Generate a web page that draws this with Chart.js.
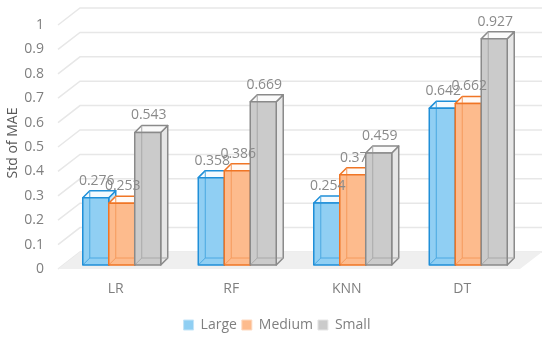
<!DOCTYPE html>
<html>
<head>
<meta charset="utf-8">
<script src="https://cdn.jsdelivr.net/npm/chart.js@4.4.1/dist/chart.umd.min.js"></script>
<style>
  html, body { margin: 0; padding: 0; background: #ffffff; }
  #wrap { width: 550px; height: 339px; }
</style>
</head>
<body>
<div id="wrap"><canvas id="chart" width="550" height="339"></canvas></div>
<script>
const categories = ["LR", "RF", "KNN", "DT"];
const seriesNames = ["Large", "Medium", "Small"];
const largeValues = [0.276, 0.358, 0.254, 0.642];
const mediumValues = [0.253, 0.386, 0.37, 0.662];
const smallValues = [0.543, 0.669, 0.459, 0.927];
const yTicks = [0, 0.1, 0.2, 0.3, 0.4, 0.5, 0.6, 0.7, 0.8, 0.9, 1];

// front / side / top / edge colours for each series
const faceColors = [
    { front: "#90cff3", side: "#c4e5f8", top: "#f4fafe", edge: "#1f8fd8", inner: "#4aa8e2" },
    { front: "#fdbb8d", side: "#fdd9c0", top: "#fffaf6", edge: "#f07525", inner: "#f59a5c" },
    { front: "#cbcbcb", side: "#e6e6e6", top: "#fafafa", edge: "#8a8a8a", inner: "#a9a9a9" },
];

const DEPTH = 7;       // depth of each box
const WALL_DX = 22;    // back wall offset
const WALL_DY = 17;
const FONT = "'Open Sans', 'Noto Sans', sans-serif";

const fmt = (v) => String(Math.round(v * 1000) / 1000);

const box3d = {
    id: "box3d",
    afterLayout(chart) {
        // legend sits a bit right of the canvas centre
        chart.legend.left += 14;
        chart.legend.right += 14;
        chart.legend.top += 3;
        chart.legend.bottom += 3;
    },
    beforeDatasetsDraw(chart) {
        const ctx = chart.ctx;
        const y = chart.scales.y;
        const area = chart.chartArea;
        const fx0 = area.left - 6;     // front edge of floor / walls
        const fx1 = area.right - 6;
        ctx.save();
        // back wall gridlines with slanted side part
        ctx.strokeStyle = "#e7e7e7";
        ctx.lineWidth = 1.5;
        yTicks.forEach((v) => {
            const py = y.getPixelForValue(v) + 4;
            ctx.beginPath();
            ctx.moveTo(fx0, py);
            ctx.lineTo(fx0 + WALL_DX, py - WALL_DY);
            ctx.lineTo(fx1 + WALL_DX, py - WALL_DY);
            ctx.stroke();
        });
        // floor
        const by = y.getPixelForValue(0) + 4;
        ctx.fillStyle = "#efefef";
        ctx.beginPath();
        ctx.moveTo(fx0, by);
        ctx.lineTo(fx0 + WALL_DX, by - WALL_DY);
        ctx.lineTo(fx1 + WALL_DX, by - WALL_DY);
        ctx.lineTo(fx1, by);
        ctx.closePath();
        ctx.fill();
        ctx.restore();
    },
    afterDatasetsDraw(chart) {
        const ctx = chart.ctx;
        const d = DEPTH;
        ctx.save();
        ctx.lineJoin = "round";
        for (let i = 0; i < categories.length; i++) {
            chart.data.datasets.forEach((ds, di) => {
                const el = chart.getDatasetMeta(di).data[i];
                const c = faceColors[di];
                const l = el.x - el.width / 2;
                const r = el.x + el.width / 2;
                const t = el.y;
                const b = el.base;
                ctx.lineWidth = 1.5;
                ctx.strokeStyle = c.edge;
                // side
                ctx.fillStyle = c.side;
                ctx.beginPath();
                ctx.moveTo(r, t);
                ctx.lineTo(r + d, t - d);
                ctx.lineTo(r + d, b - d);
                ctx.lineTo(r, b);
                ctx.closePath();
                ctx.fill();
                ctx.stroke();
                // top
                ctx.fillStyle = c.top;
                ctx.beginPath();
                ctx.moveTo(l, t);
                ctx.lineTo(l + d, t - d);
                ctx.lineTo(r + d, t - d);
                ctx.lineTo(r, t);
                ctx.closePath();
                ctx.fill();
                ctx.stroke();
                // front
                ctx.fillStyle = c.front;
                ctx.fillRect(l, t, r - l, b - t);
                // hidden edges seen through the box
                ctx.lineWidth = 1;
                ctx.strokeStyle = c.inner;
                ctx.beginPath();
                ctx.moveTo(l + d, t - d);
                ctx.lineTo(l + d, b - d);
                ctx.lineTo(r + d, b - d);
                ctx.moveTo(l, b);
                ctx.lineTo(l + d, b - d);
                ctx.stroke();
                ctx.lineWidth = 1.5;
                ctx.strokeStyle = c.edge;
                ctx.strokeRect(l, t, r - l, b - t);
            });
        }
        // value labels
        ctx.fillStyle = "#8a8a8a";
        ctx.font = "14px " + FONT;
        ctx.textAlign = "center";
        ctx.textBaseline = "middle";
        chart.data.datasets.forEach((ds, di) => {
            chart.getDatasetMeta(di).data.forEach((el, i) => {
                ctx.fillText(fmt(ds.data[i]), el.x + 1, el.y - 17);
            });
        });
        ctx.restore();
    },
};

const valueSets = [largeValues, mediumValues, smallValues];

new Chart(document.getElementById("chart"), {
    type: "bar",
    plugins: [box3d],
    data: {
        labels: categories,
        datasets: seriesNames.map((name, i) => ({
            label: name,
            data: valueSets[i],
            backgroundColor: faceColors[i].front,
            borderColor: faceColors[i].side,
            borderWidth: 1,
        })),
    },
    options: {
        responsive: false,
        animation: false,
        layout: { padding: { top: 21, right: 24, left: 0, bottom: 0 } },
        datasets: {
            bar: { categoryPercentage: 0.675, barPercentage: 1 },
        },
        scales: {
            x: {
                grid: { display: false, drawTicks: false },
                border: { display: false },
                afterFit(scale) { scale.height = 45; },
                ticks: {
                    color: "#7f7f7f",
                    font: { size: 14, family: FONT },
                    padding: 16,
                    labelOffset: -6,
                },
            },
            y: {
                min: 0,
                max: 1,
                grid: { display: false, drawTicks: false },
                border: { display: false },
                afterFit(scale) {
                    scale.width = 64;
                    scale.paddingTop = 0;
                    scale.paddingBottom = 0;
                },
                ticks: {
                    stepSize: 0.1,
                    color: "#7f7f7f",
                    font: { size: 14, family: FONT },
                    padding: 20,
                    labelOffset: 4,
                    callback: (v) => fmt(v),
                },
                title: {
                    display: true,
                    text: "Std of MAE",
                    color: "#595959",
                    font: { size: 14, family: FONT },
                    padding: { top: 5, bottom: 0 },
                },
            },
        },
        plugins: {
            tooltip: { enabled: false },
            legend: {
                position: "bottom",
                labels: {
                    boxWidth: 10,
                    boxHeight: 10,
                    padding: 5,
                    color: "#7f7f7f",
                    font: { size: 14, family: FONT },
                },
            },
        },
    },
});
</script>
</body>
</html>
